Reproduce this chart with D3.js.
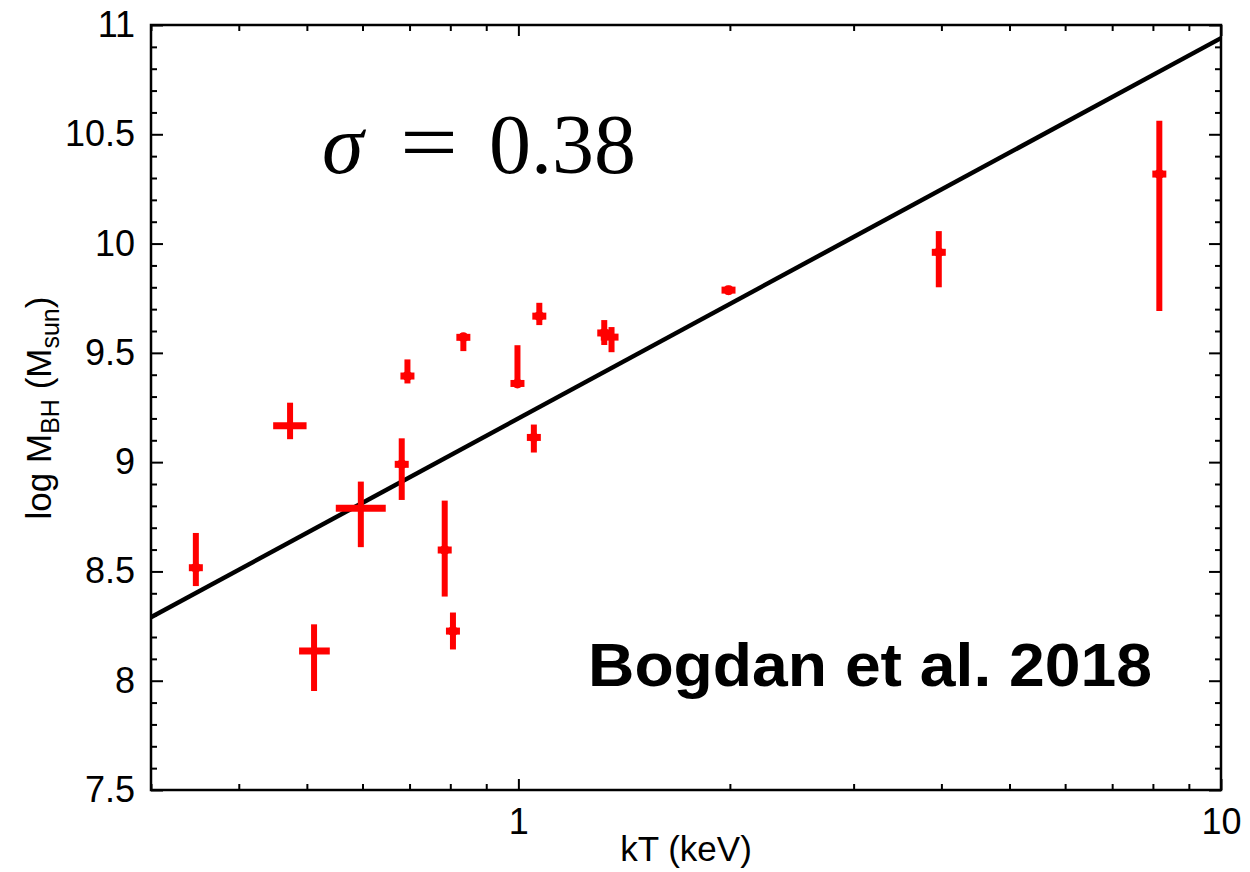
<!DOCTYPE html>
<html>
<head>
<meta charset="UTF-8">
<title>log MBH vs kT</title>
<script src="https://d3js.org/d3.v7.min.js"></script>
<style>
  body { margin: 0; background: #fff; }
  text { font-family: "Liberation Sans", Arial, Helvetica, sans-serif; }
</style>
</head>
<body>
<div id="chart"></div>
<script>
// kT (keV), log M_BH, and their error limits
var kT     = [0.3475, 0.4732, 0.5119, 0.5967, 0.6823, 0.6952, 0.7855, 0.807, 0.835, 0.997, 1.052, 1.071, 1.325, 1.357, 1.991, 3.966, 8.17];
var kTLo   = [0.3475, 0.4477, 0.4874, 0.5497, 0.6823, 0.6952, 0.7855, 0.807, 0.835, 0.997, 1.052, 1.071, 1.325, 1.310, 1.991, 3.966, 8.17];
var kTHi   = [0.3475, 0.4995, 0.5390, 0.6475, 0.6823, 0.6952, 0.7855, 0.807, 0.835, 0.997, 1.052, 1.071, 1.325, 1.385, 1.991, 3.966, 8.17];
var logM   = [8.517, 9.167, 8.136, 8.789, 8.99, 9.394, 8.598, 8.227, 9.571, 9.360, 9.113, 9.668, 9.591, 9.572, 9.787, 9.96, 10.318];
var mErrHi = [0.159, 0.105, 0.122, 0.122, 0.119, 0.076, 0.226, 0.085, 0.020, 0.175, 0.059, 0.061, 0.059, 0.046, 0.020, 0.097, 0.244];
var mErrLo = [0.084, 0.062, 0.183, 0.178, 0.163, 0.034, 0.213, 0.084, 0.063, 0.018, 0.069, 0.041, 0.055, 0.069, 0.020, 0.160, 0.627];

// best fit: logM = fitA + fitB * log10(kT)
var fitA = 9.20, fitB = 1.74;

var yTicks = [7.5, 8, 8.5, 9, 9.5, 10, 10.5, 11];
var xTicks = [1, 10];

var margin = {top: 25, right: 29, bottom: 82, left: 151},
    width = 1250 - margin.left - margin.right,
    height = 872 - margin.top - margin.bottom;

var svg = d3.select("#chart").append("svg")
    .attr("width", 1250).attr("height", 872)
  .append("g")
    .attr("transform", "translate(" + margin.left + "," + margin.top + ")");

var x = d3.scaleLog().domain([0.3, 10]).range([0, width]);
var y = d3.scaleLinear().domain([7.5, 11]).range([height, 0]);

// minor ticks
var xMinor = [];
[0.1, 1].forEach(function(dec) {
  for (var k = 1; k <= 9; k++) {
    var v = +(dec * k).toFixed(2);
    if (v >= 0.3 && v <= 10 && xTicks.indexOf(v) < 0) xMinor.push(v);
  }
});
var yMinor = d3.range(75, 111).map(function(v) { return v / 10; })
    .filter(function(v) { return yTicks.indexOf(v) < 0; });

function styleAxis(g) {
  g.select(".domain").remove();
  g.selectAll(".tick line").attr("stroke", "#000").attr("stroke-width", 2);
  g.selectAll(".tick text").attr("font-size", 36).attr("fill", "#000");
}

// bottom
svg.append("g").attr("transform", "translate(0," + height + ")")
  .call(d3.axisBottom(x).tickValues(xMinor).tickSize(-6).tickFormat(""))
  .call(styleAxis);
svg.append("g").attr("transform", "translate(0," + height + ")")
  .call(d3.axisBottom(x).tickValues(xTicks).tickSize(-11).tickPadding(18).tickFormat(d3.format("d")))
  .call(styleAxis);
// top
svg.append("g")
  .call(d3.axisTop(x).tickValues(xMinor).tickSize(-6).tickFormat(""))
  .call(styleAxis);
svg.append("g")
  .call(d3.axisTop(x).tickValues(xTicks).tickSize(-11).tickFormat(""))
  .call(styleAxis);
// left
svg.append("g")
  .call(d3.axisLeft(y).tickValues(yMinor).tickSize(-6).tickFormat(""))
  .call(styleAxis);
svg.append("g")
  .call(d3.axisLeft(y).tickValues(yTicks).tickSize(-12).tickPadding(16).tickFormat(d3.format("")))
  .call(styleAxis);
// right
svg.append("g").attr("transform", "translate(" + width + ",0)")
  .call(d3.axisRight(y).tickValues(yMinor).tickSize(-6).tickFormat(""))
  .call(styleAxis);
svg.append("g").attr("transform", "translate(" + width + ",0)")
  .call(d3.axisRight(y).tickValues(yTicks).tickSize(-12).tickFormat(""))
  .call(styleAxis);

// frame
svg.append("rect")
  .attr("width", width).attr("height", height)
  .attr("fill", "none").attr("stroke", "#000").attr("stroke-width", 2.5);

// fit line
var lineData = x.domain().map(function(k) { return [k, fitA + fitB * Math.log10(k)]; });
svg.append("path")
  .datum(lineData)
  .attr("fill", "none")
  .attr("stroke", "#000")
  .attr("stroke-width", 4.5)
  .attr("d", d3.line().x(function(d) { return x(d[0]); }).y(function(d) { return y(d[1]); }));

// data points
var pts = kT.map(function(k, i) {
  return {k: k, lo: kTLo[i], hi: kTHi[i], m: logM[i], up: mErrHi[i], dn: mErrLo[i]};
});
var g = svg.append("g").attr("stroke", "#ff0000").attr("fill", "#ff0000");
g.selectAll(".ev").data(pts).enter().append("line")
  .attr("x1", function(d) { return x(d.k); })
  .attr("x2", function(d) { return x(d.k); })
  .attr("y1", function(d) { return y(d.m + d.up); })
  .attr("y2", function(d) { return y(d.m - d.dn); })
  .attr("stroke-width", 6);
g.selectAll(".eh").data(pts).enter().append("line")
  .attr("x1", function(d) { return Math.min(x(d.lo), x(d.k) - 7); })
  .attr("x2", function(d) { return Math.max(x(d.hi), x(d.k) + 7); })
  .attr("y1", function(d) { return y(d.m); })
  .attr("y2", function(d) { return y(d.m); })
  .attr("stroke-width", 7);
g.selectAll(".dot").data(pts.filter(function(d) { return d.lo === d.k; })).enter().append("circle")
  .attr("cx", function(d) { return x(d.k); })
  .attr("cy", function(d) { return y(d.m); })
  .attr("r", 5).attr("stroke", "none");

// axis titles
svg.append("text")
  .attr("x", 686 - margin.left).attr("y", 861 - margin.top)
  .attr("text-anchor", "middle").attr("font-size", 35)
  .text("kT (keV)");

var yl = svg.append("text")
  .attr("transform", "translate(" + (51 - margin.left) + "," + (408 - margin.top) + ") rotate(-90)")
  .attr("text-anchor", "middle").attr("font-size", 35);
yl.append("tspan").text("log M");
yl.append("tspan").attr("font-size", 25).attr("dy", 8).text("BH");
yl.append("tspan").attr("dy", -8).text(" (M");
yl.append("tspan").attr("font-size", 25).attr("dy", 8).text("sun");
yl.append("tspan").attr("dy", -8).text(")");

// annotations
var sig = svg.append("g").attr("font-size", 84);
sig.append("text").attr("x", 322 - margin.left).attr("y", 173 - margin.top)
  .attr("font-style", "italic").style("font-family", "'Liberation Serif', serif").text("σ");
sig.append("text").attr("x", 400 - margin.left).attr("y", 171 - margin.top)
  .style("font-family", "'Liberation Serif', serif").attr("textLength", 58).attr("lengthAdjust", "spacingAndGlyphs").text("=");
sig.append("text").attr("x", 489 - margin.left).attr("y", 173 - margin.top)
  .style("font-family", "'Liberation Serif', serif").text("0.38");

svg.append("text")
  .attr("x", 588 - margin.left).attr("y", 686 - margin.top)
  .attr("font-size", 62).attr("font-weight", "bold")
  .attr("textLength", 564).attr("lengthAdjust", "spacingAndGlyphs")
  .text("Bogdan et al. 2018");
</script>
</body>
</html>
